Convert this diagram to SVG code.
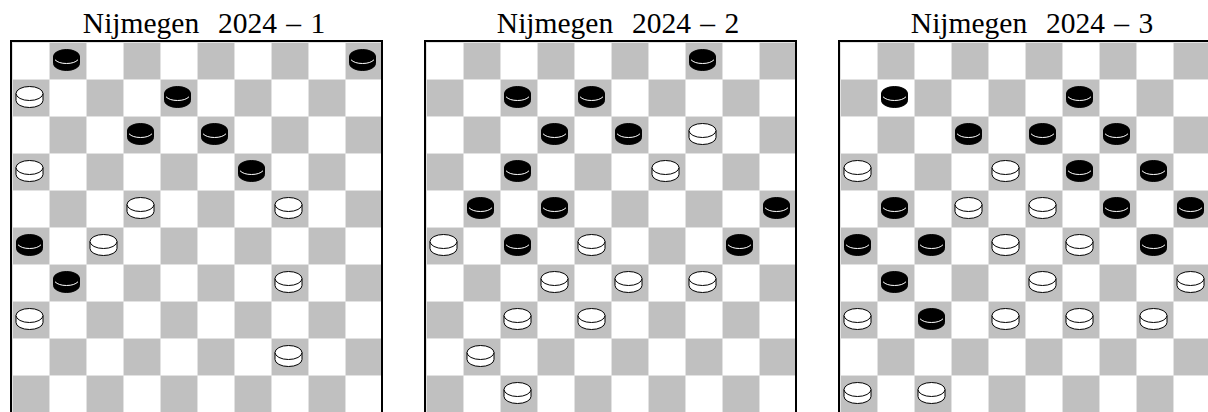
<svg xmlns="http://www.w3.org/2000/svg" xmlns:xlink="http://www.w3.org/1999/xlink" width="1208" height="412" viewBox="0 0 1208 412">
<style>
.title{font-family:"Liberation Serif","Times New Roman",serif;font-size:29.5px;word-spacing:2px;fill:#000;text-anchor:middle}
.frame{fill:none;stroke:#000;stroke-width:2}
.board{fill:url(#ck)}
</style>
<defs>
<pattern id="ck" width="74" height="74" patternUnits="userSpaceOnUse">
<rect width="74" height="74" fill="#fff"/>
<rect x="37" y="0" width="37" height="37" fill="#c0c0c0"/>
<rect x="0" y="37" width="37" height="37" fill="#c0c0c0"/>
<rect x="0" y="0" width="1" height="74" fill="#e2e2e2"/>
<rect x="37" y="0" width="1" height="74" fill="#e2e2e2"/>
<rect x="0" y="0" width="74" height="1" fill="#e2e2e2"/>
<rect x="0" y="37" width="74" height="1" fill="#e2e2e2"/>
</pattern>
<g id="b">
<path d="M-13,-3.5 V3.5 A13,7 0 0 0 13,3.5 V-3.5 Z" fill="#000" stroke="#000"/>
<ellipse cx="0" cy="-3.5" rx="13" ry="7" fill="#000" stroke="#000"/>
<path d="M-11.5,-0.24 A13,7 0 0 0 11.5,-0.24" fill="none" stroke="#fff" stroke-width="1"/>
</g>
<g id="w">
<path d="M-13.5,-3.5 V3.5 A13.5,7 0 0 0 13.5,3.5 V-3.5 Z" fill="#fff" stroke="#000"/>
<ellipse cx="0" cy="-3.5" rx="13.5" ry="7" fill="#fff" stroke="#000"/>
</g>
</defs>
<rect width="1208" height="412" fill="#fff"/>

<g id="board1" transform="translate(12,42)">
<text class="title" x="192" y="-9" xml:space="preserve">Nijmegen  2024 – 1</text>
<rect class="board" x="0" y="0" width="370" height="370"/>
<rect class="frame" x="-1" y="-1" width="371" height="372"/>
<use href="#b" x="54.5" y="18"/>
<use href="#b" x="350.5" y="18"/>
<use href="#w" x="17.5" y="55"/>
<use href="#b" x="165.5" y="55"/>
<use href="#b" x="128.5" y="92"/>
<use href="#b" x="202.5" y="92"/>
<use href="#w" x="17.5" y="129"/>
<use href="#b" x="239.5" y="129"/>
<use href="#w" x="128.5" y="166"/>
<use href="#w" x="276.5" y="166"/>
<use href="#b" x="17.5" y="203"/>
<use href="#w" x="91.5" y="203"/>
<use href="#b" x="54.5" y="240"/>
<use href="#w" x="276.5" y="240"/>
<use href="#w" x="17.5" y="277"/>
<use href="#w" x="276.5" y="314"/>
</g>

<g id="board2" transform="translate(426,42)">
<text class="title" x="192" y="-9" xml:space="preserve">Nijmegen  2024 – 2</text>
<rect class="board" x="0" y="0" width="370" height="370"/>
<rect class="frame" x="-1" y="-1" width="371" height="372"/>
<use href="#b" x="276.5" y="18"/>
<use href="#b" x="91.5" y="55"/>
<use href="#b" x="165.5" y="55"/>
<use href="#b" x="128.5" y="92"/>
<use href="#b" x="202.5" y="92"/>
<use href="#w" x="276.5" y="92"/>
<use href="#b" x="91.5" y="129"/>
<use href="#w" x="239.5" y="129"/>
<use href="#b" x="54.5" y="166"/>
<use href="#b" x="128.5" y="166"/>
<use href="#b" x="350.5" y="166"/>
<use href="#w" x="17.5" y="203"/>
<use href="#b" x="91.5" y="203"/>
<use href="#w" x="165.5" y="203"/>
<use href="#b" x="313.5" y="203"/>
<use href="#w" x="128.5" y="240"/>
<use href="#w" x="202.5" y="240"/>
<use href="#w" x="276.5" y="240"/>
<use href="#w" x="91.5" y="277"/>
<use href="#w" x="165.5" y="277"/>
<use href="#w" x="54.5" y="314"/>
<use href="#w" x="91.5" y="351"/>
</g>

<g id="board3" transform="translate(840,42)">
<text class="title" x="192" y="-9" xml:space="preserve">Nijmegen  2024 – 3</text>
<rect class="board" x="0" y="0" width="370" height="370"/>
<rect class="frame" x="-1" y="-1" width="371" height="372"/>
<use href="#b" x="54.5" y="55"/>
<use href="#b" x="239.5" y="55"/>
<use href="#b" x="128.5" y="92"/>
<use href="#b" x="202.5" y="92"/>
<use href="#b" x="276.5" y="92"/>
<use href="#w" x="17.5" y="129"/>
<use href="#w" x="165.5" y="129"/>
<use href="#b" x="239.5" y="129"/>
<use href="#b" x="313.5" y="129"/>
<use href="#b" x="54.5" y="166"/>
<use href="#w" x="128.5" y="166"/>
<use href="#w" x="202.5" y="166"/>
<use href="#b" x="276.5" y="166"/>
<use href="#b" x="350.5" y="166"/>
<use href="#b" x="17.5" y="203"/>
<use href="#b" x="91.5" y="203"/>
<use href="#w" x="165.5" y="203"/>
<use href="#w" x="239.5" y="203"/>
<use href="#b" x="313.5" y="203"/>
<use href="#b" x="54.5" y="240"/>
<use href="#w" x="202.5" y="240"/>
<use href="#w" x="350.5" y="240"/>
<use href="#w" x="17.5" y="277"/>
<use href="#b" x="91.5" y="277"/>
<use href="#w" x="165.5" y="277"/>
<use href="#w" x="239.5" y="277"/>
<use href="#w" x="313.5" y="277"/>
<use href="#w" x="17.5" y="351"/>
<use href="#w" x="91.5" y="351"/>
</g>
</svg>
